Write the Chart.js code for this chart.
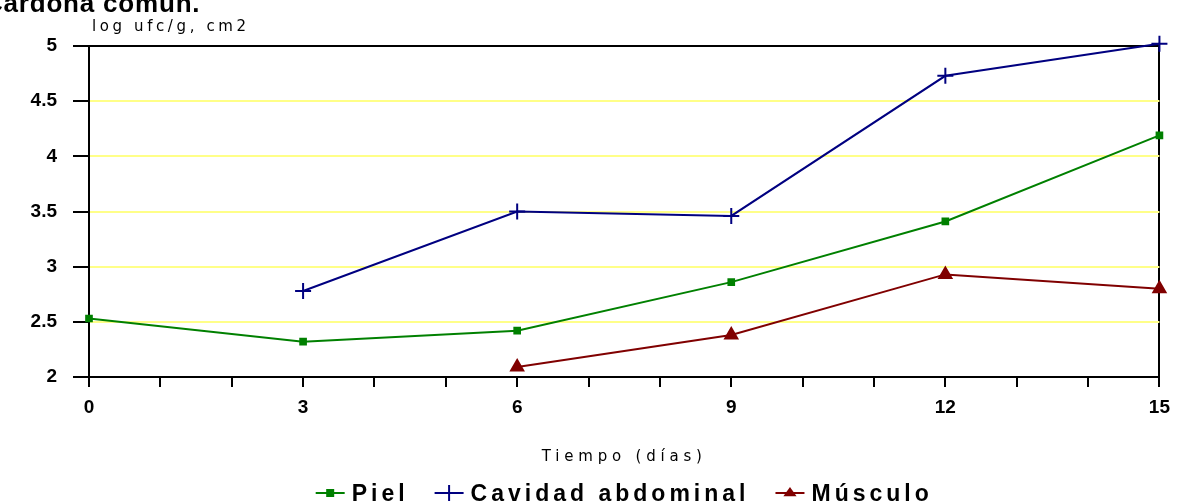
<!DOCTYPE html>
<html>
<head>
<meta charset="utf-8">
<script src="https://cdn.jsdelivr.net/npm/chart.js@4/dist/chart.umd.min.js"></script>
<style>
  html, body { margin: 0; padding: 0; background: #ffffff; overflow: hidden; }
  #wrap { position: relative; width: 1179px; height: 503px; }
</style>
</head>
<body>
<div id="wrap"><canvas id="c" width="1179" height="503"></canvas></div>
<script>
// Sampling days and log counts for each surface
const dias = [0, 3, 6, 9, 12, 15];
const piel = [2.53, 2.32, 2.42, 2.86, 3.41, 4.19];
const cavidadAbdominal = [null, 2.78, 3.50, 3.46, 4.73, 5.02];
const musculo = [null, null, 2.09, 2.38, 2.93, 2.80];

const yTicks = [2, 2.5, 3, 3.5, 4, 4.5, 5];
const xLabelEvery = 3;

const tituloSuperior = 'Cardona común.';
const tituloY = 'log ufc/g, cm2';
const tituloX = 'Tiempo (días)';
const nombres = ['Piel', 'Cavidad abdominal', 'Músculo'];

const colores = ['#008000', '#000080', '#800000'];
const estilos = ['rect', 'cross', 'triangle'];
const radios = [4, 8, 7];

function puntos(valores) {
  const out = [];
  dias.forEach((d, i) => { if (valores[i] !== null) out.push({ x: d, y: valores[i] }); });
  return out;
}

const series = [piel, cavidadAbdominal, musculo];

function spacedText(ctx, text, x, y, font, spacing, align) {
  ctx.save();
  ctx.font = font;
  ctx.fillStyle = '#000';
  ctx.textBaseline = 'alphabetic';
  if ('letterSpacing' in ctx) ctx.letterSpacing = spacing + 'px';
  const w = ctx.measureText(text).width;
  let sx = x;
  if (align === 'center') sx = x - w / 2;
  ctx.textAlign = 'left';
  ctx.fillText(text, sx, y);
  ctx.restore();
  return w;
}

function marker(ctx, style, x, y, r, color) {
  ctx.save();
  ctx.fillStyle = color;
  ctx.strokeStyle = color;
  ctx.lineWidth = 2;
  if (style === 'rect') {
    ctx.fillRect(x - r, y - r, 2 * r, 2 * r);
  } else if (style === 'cross') {
    ctx.beginPath();
    ctx.moveTo(x - r, y); ctx.lineTo(x + r, y);
    ctx.moveTo(x, y - r); ctx.lineTo(x, y + r);
    ctx.stroke();
  } else if (style === 'triangle') {
    ctx.beginPath();
    ctx.moveTo(x, y - r);
    ctx.lineTo(x + r * 1.1, y + r * 0.55);
    ctx.lineTo(x - r * 1.1, y + r * 0.55);
    ctx.closePath();
    ctx.fill();
  }
  ctx.restore();
}

const decor = {
  id: 'decor',
  afterDraw(chart) {
    const ctx = chart.ctx;
    const area = chart.chartArea;
    const cx = (area.left + area.right) / 2;

    // heading partly above the page edge
    spacedText(ctx, tituloSuperior, -16, 12, 'bold 26px "Liberation Sans", Arial, sans-serif', 0.8, 'left');

    // y axis caption above the plot
    spacedText(ctx, tituloY, area.left + 3, 31, '15px "DejaVu Sans", sans-serif', 3.6, 'left');

    // x axis caption
    spacedText(ctx, tituloX, cx, 461, '15px "DejaVu Sans", sans-serif', 4.8, 'center');

    // legend row
    const font = 'bold 23px "Liberation Sans", Arial, sans-serif';
    const spacing = 4;
    const symW = 29, symGap = 7, itemGap = 26;
    ctx.save();
    ctx.font = font;
    if ('letterSpacing' in ctx) ctx.letterSpacing = spacing + 'px';
    const widths = nombres.map(n => ctx.measureText(n).width);
    ctx.restore();
    let total = 0;
    widths.forEach((w, i) => { total += symW + symGap + w + (i < widths.length - 1 ? itemGap : 0); });
    let x = cx - total / 2;
    const ly = 493;
    nombres.forEach((n, i) => {
      ctx.save();
      ctx.strokeStyle = colores[i];
      ctx.lineWidth = 2;
      ctx.beginPath();
      ctx.moveTo(x, ly); ctx.lineTo(x + symW, ly);
      ctx.stroke();
      ctx.restore();
      marker(ctx, estilos[i], x + symW / 2, ly, i === 0 ? 4 : (i === 1 ? 8 : 6), colores[i]);
      spacedText(ctx, n, x + symW + symGap, ly + 8, font, spacing, 'left');
      x += symW + symGap + widths[i] + itemGap;
    });
  }
};

new Chart(document.getElementById('c'), {
  type: 'line',
  data: {
    datasets: series.map((s, i) => ({
      label: nombres[i],
      data: puntos(s),
      borderColor: colores[i],
      backgroundColor: colores[i],
      borderWidth: 2,
      pointStyle: estilos[i],
      pointRadius: radios[i],
      pointHoverRadius: radios[i],
      pointBorderWidth: 2,
      pointBorderColor: colores[i],
      pointBackgroundColor: colores[i],
      tension: 0,
      fill: false,
      clip: false
    }))
  },
  options: {
    responsive: false,
    animation: false,
    devicePixelRatio: 1,
    events: [],
    layout: { padding: { left: 0, right: 19, top: 46, bottom: 0 } },
    plugins: {
      legend: { display: false },
      tooltip: { enabled: false },
      title: { display: false }
    },
    scales: {
      x: {
        type: 'linear',
        min: dias[0],
        max: dias[dias.length - 1],
        afterFit(scale) { scale.height = 126; },
        afterBuildTicks(scale) {
          const t = [];
          for (let v = dias[0]; v <= dias[dias.length - 1]; v++) t.push({ value: v });
          scale.ticks = t;
        },
        ticks: {
          autoSkip: false,
          maxRotation: 0,
          padding: 9,
          color: '#000',
          font: { family: '"Liberation Sans", Arial, sans-serif', size: 19, weight: 'bold' },
          callback: v => (v % xLabelEvery === 0 ? String(v) : '')
        },
        grid: {
          drawOnChartArea: true,
          drawTicks: true,
          tickLength: 10,
          tickWidth: 2,
          tickColor: '#000',
          lineWidth: 2,
          color: ctx => (ctx.tick && ctx.tick.value === dias[dias.length - 1] ? '#000' : 'rgba(0,0,0,0)')
        },
        border: { display: true, color: '#000', width: 2 }
      },
      y: {
        type: 'linear',
        min: yTicks[0],
        max: yTicks[yTicks.length - 1],
        afterFit(scale) { scale.width = 89; },
        afterBuildTicks(scale) { scale.ticks = yTicks.map(v => ({ value: v })); },
        ticks: {
          padding: 16,
          color: '#000',
          font: { family: '"Liberation Sans", Arial, sans-serif', size: 19, weight: 'bold' },
          callback: v => String(v)
        },
        grid: {
          drawTicks: true,
          tickLength: 16,
          tickWidth: 2,
          tickColor: '#000',
          lineWidth: 2,
          color: ctx => {
            const v = ctx.tick ? ctx.tick.value : null;
            if (v === yTicks[yTicks.length - 1]) return '#000';
            if (v === yTicks[0]) return 'rgba(0,0,0,0)';
            return '#ffff88';
          }
        },
        border: { display: true, color: '#000', width: 2 }
      }
    }
  },
  plugins: [decor]
});
</script>
</body>
</html>
